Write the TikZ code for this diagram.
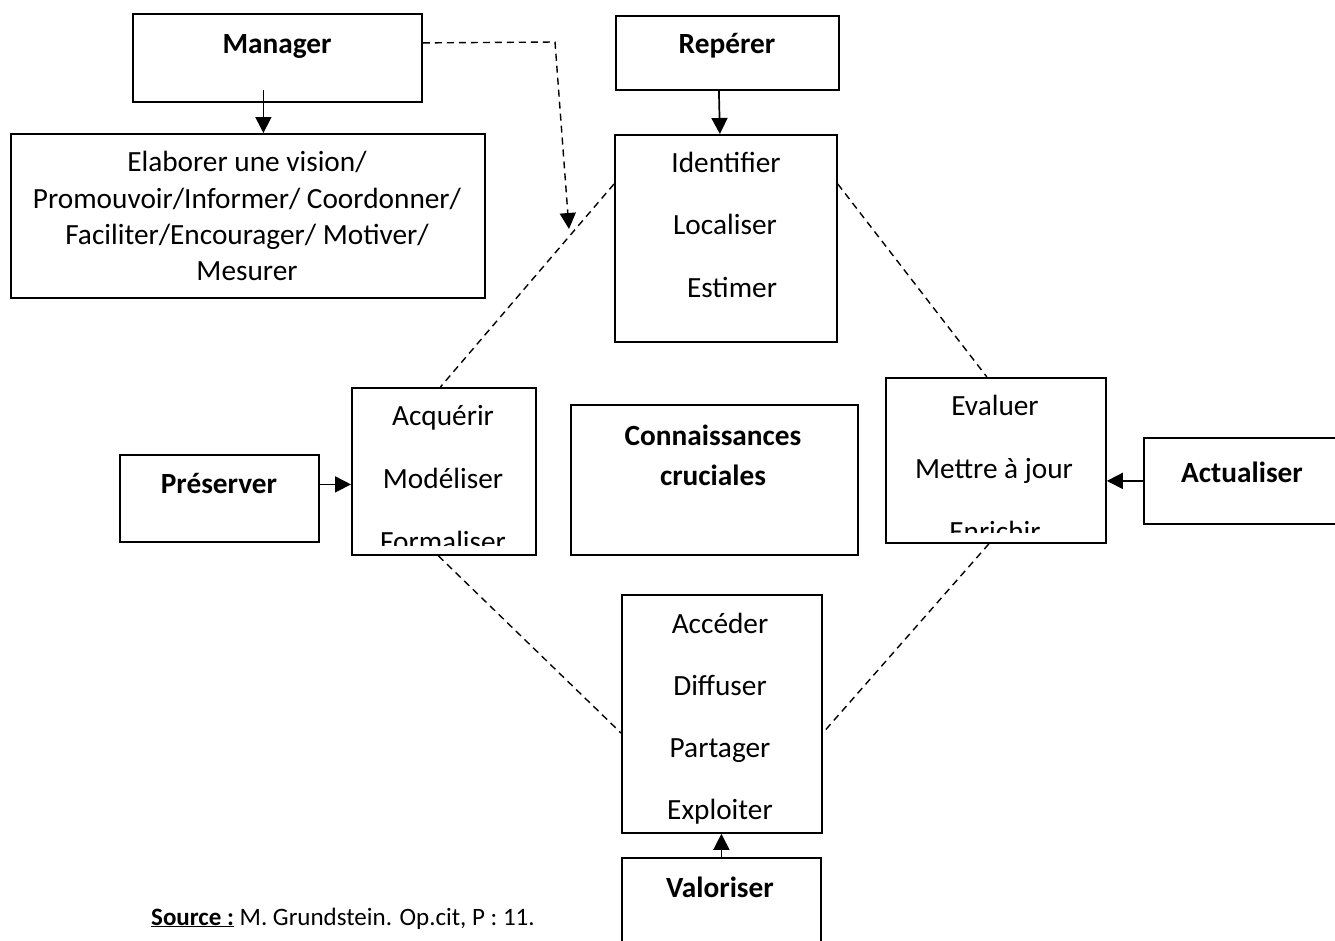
\documentclass[tikz,border=0pt]{standalone}
\usepackage{fontspec}
\setmainfont{Carlito}
\usetikzlibrary{arrows.meta}
\begin{document}
\begin{tikzpicture}[x=1pt,y=-1pt,
  box/.style={draw, line width=1.8pt, inner sep=0pt, anchor=north west},
  txt/.style={font=\fontsize{29.3}{36}\selectfont, inner sep=0pt, anchor=base},
  btxt/.style={font=\fontsize{29.3}{36}\selectfont\bfseries, inner sep=0pt, anchor=base},
  tip/.style={-{Triangle[length=16pt,width=16pt]}},
  arr/.style={line width=1.7pt, tip},
  dashline/.style={line width=1.4pt, dash pattern=on 7pt off 5pt}]
\useasboundingbox (0,0) rectangle (1335,940);
\clip (0,0) rectangle (1335,940);

% frames
\node[box, minimum width=289pt, minimum height=88pt]  (mgr)   at (132,13)  {};
\node[box, minimum width=474pt, minimum height=164pt] (elab)  at (10,133)  {};
\node[box, minimum width=223pt, minimum height=74pt]  (rep)   at (615,15)  {};
\node[box, minimum width=222pt, minimum height=207pt] (ident) at (614,134) {};
\node[box, minimum width=184pt, minimum height=167pt] (acq)   at (351,387) {};
\node[box, minimum width=199pt, minimum height=87pt]  (pres)  at (119,454) {};
\node[box, minimum width=287pt, minimum height=150pt] (conn)  at (570,404) {};
\node[box, minimum width=220pt, minimum height=165pt] (eval)  at (885,377) {};
\node[box, minimum width=198pt, minimum height=86pt]  (actu)  at (1143,437) {};
\node[box, minimum width=200pt, minimum height=238pt] (acc)   at (621,594) {};
\node[box, minimum width=199pt, minimum height=110pt] (valo)  at (621,857) {};

% labels
\node[btxt] (tmgr) at (277,53) {Manager};
\node[txt] (e1) at (247,171) {Elaborer une vision/};
\node[txt] (e2) at (247,208) {Promouvoir/Informer/ Coordonner/};
\node[txt] (e3) at (247,244) {Faciliter/Encourager/ Motiver/};
\node[txt] (e4) at (247,280) {Mesurer};

\node[btxt] (trep) at (727,53) {Repérer};
\node[txt] (i1) at (726,172) {Identifier};
\node[txt] (i2) at (725,234) {Localiser};
\node[txt] (i3) at (732,297) {Estimer};

\node[txt] (a1) at (443,425) {Acquérir};
\node[txt] (a2) at (443,488) {Modéliser};
\begin{scope}
  \clip (353,389) rectangle (533,545);
  \node[txt] (a3) at (443,551) {Formaliser};
\end{scope}

\node[btxt] (tpres) at (219,493) {Préserver};

\node[btxt] (c1) at (713,445) {Connaissances};
\node[btxt] (c2) at (713,485) {cruciales};

\node[txt] (v1) at (995,415) {Evaluer};
\node[txt] (v2) at (994,478) {Mettre à jour};
\begin{scope}
  \clip (887,379) rectangle (1103,532);
  \node[txt] (v3) at (995,541) {Enrichir};
\end{scope}

\node[btxt] (tactu) at (1242,482) {Actualiser};

\node[txt] (d1) at (720,633) {Accéder};
\node[txt] (d2) at (720,695) {Diffuser};
\node[txt] (d3) at (720,757) {Partager};
\node[txt] (d4) at (720,819) {Exploiter};

\node[btxt] (tvalo) at (720,897) {Valoriser};

\node[font=\fontsize{25}{30}\selectfont, inner sep=0pt, anchor=base west] (src) at (151,925)
  {\underline{\textbf{Source :}} M. Grundstein. Op.cit, P : 11.};

% solid arrows
\draw[arr] ([xshift=-14pt,yshift=13pt]mgr.south) -- ([xshift=-14pt]mgr.south |- elab.north);
\draw[arr] ([xshift=-8.5pt]rep.south) -- ([xshift=-6pt]ident.north);
\draw[arr] ([yshift=14pt]pres.east) -- ([yshift=14pt]pres.east -| acq.west);
\draw[arr] (actu.west) -- (actu.west -| eval.east);
\draw[arr] (valo.north) -- (valo.north |- acc.south);

% dashed arrow from the manager
\coordinate (bend) at (555,42);
\coordinate (end)  at (569,229);
\draw[dashline, tip] ([yshift=15pt]mgr.east) -- (bend) -- (end);

% dashed cycle links
\draw[dashline] ([yshift=-50pt]ident.north west) -- ([xshift=-3.5pt]acq.north);
\draw[dashline] ([yshift=-50pt]ident.north east) -- ([xshift=-9pt]eval.north);
\draw[dashline] ([xshift=-5.5pt]acq.south) -- ([yshift=-139pt]acc.north west);
\draw[dashline] ([xshift=-7pt]eval.south) -- ([yshift=-139pt]acc.north east);
\end{tikzpicture}
\end{document}
